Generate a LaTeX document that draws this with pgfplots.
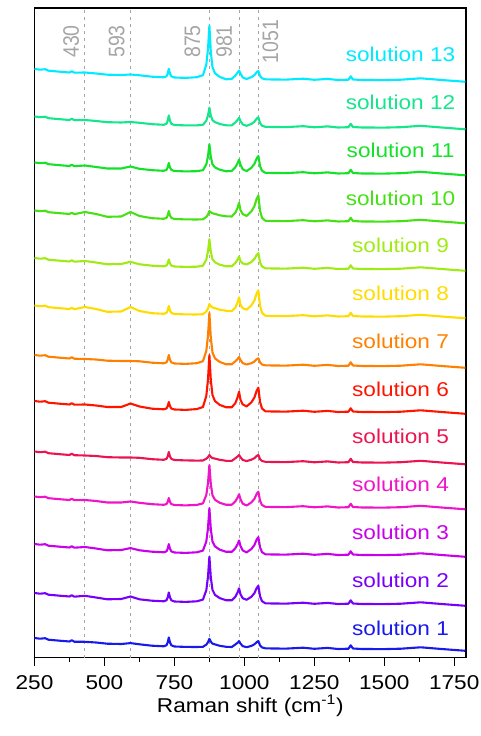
\documentclass[border=0pt]{standalone}
\usepackage{fontspec}
\setmainfont{Liberation Sans}[FakeStretch=1.13]
\newfontfamily\plainsans{Liberation Sans}
\usepackage{graphicx}
\usepackage{pgfplots}
\pgfplotsset{compat=1.18}

\definecolor{c13}{RGB}{0,235,255}
\definecolor{c12}{RGB}{20,230,140}
\definecolor{c11}{RGB}{20,225,40}
\definecolor{c10}{RGB}{70,225,20}
\definecolor{c9}{RGB}{160,235,20}
\definecolor{c8}{RGB}{255,220,0}
\definecolor{c7}{RGB}{255,128,0}
\definecolor{c6}{RGB}{255,20,0}
\definecolor{c5}{RGB}{235,20,80}
\definecolor{c4}{RGB}{240,20,200}
\definecolor{c3}{RGB}{200,0,235}
\definecolor{c2}{RGB}{120,0,250}
\definecolor{c1}{RGB}{25,25,235}
\definecolor{lgray}{RGB}{165,165,165}

\begin{document}
\begin{tikzpicture}
\begin{axis}[
    scale only axis,
    width=431.5pt, height=649.5pt,
    xmin=250, xmax=1792, ymin=0, ymax=649.5,
    xtick={250,500,...,1750},
    minor x tick num=1,
    ytick=\empty,
    xtick pos=left,
    tick align=outside,
    major tick length=8pt, minor tick length=4pt,
    tick style={black, line width=1.4pt},
    axis line style={line width=1.6pt},
    /pgf/number format/assume math mode=true,
    /pgf/number format/1000 sep={},
    ticklabel style={font=\fontsize{20}{24}\selectfont},
    xticklabel style={anchor=base, yshift=-23.5pt, inner sep=0pt},
    xlabel={Raman shift (cm\textsuperscript{-1})},
    xlabel style={at={(axis description cs:0.5,0)}, anchor=base, yshift=-55pt, inner sep=0pt, font=\fontsize{20}{24}\selectfont},
    every axis plot/.append style={line width=2.1pt, line join=round},
]
% reference lines
\addplot[lgray, line width=1pt, dash pattern=on 3pt off 4pt] coordinates {(430,0)(430,649.5)};
\addplot[lgray, line width=1pt, dash pattern=on 3pt off 4pt] coordinates {(593,0)(593,649.5)};
\addplot[lgray, line width=1pt, dash pattern=on 3pt off 4pt] coordinates {(875,0)(875,649.5)};
\addplot[lgray, line width=1pt, dash pattern=on 3pt off 4pt] coordinates {(981,0)(981,649.5)};
\addplot[lgray, line width=1pt, dash pattern=on 3pt off 4pt] coordinates {(1051,0)(1051,649.5)};

% solution 13
\addplot[c13] coordinates {(250,588.5)(270,587.8)(288,588.3)(300,586.8)(340,585.8)(375,585)(383,586.3)(392,584.8)(430,585)(470,584)(510,582.8)(560,582.5)(593,583)(625,582.2)(670,580.8)(712,580.2)(722,581.2)(726,583.9)(730,588.7)(734,583.9)(739,581.1)(750,580)(790,579.6)(830,580.3)(852,582.3)(864,593)(870,608.6)(875,632)(880,606)(886,590.4)(895,584.2)(912,580.6)(935,578.2)(955,578.6)(968,582.1)(976,584.9)(981,587)(986,583.9)(994,580.1)(1008,578.5)(1025,580.3)(1036,582.4)(1044,585.3)(1050,586.5)(1056,581.5)(1063,579.2)(1075,578.2)(1100,578)(1150,577.9)(1210,578.8)(1250,577.7)(1297,578.6)(1335,577.5)(1372,577.8)(1380,581.2)(1388,578)(1420,577.5)(1500,577.4)(1560,577.8)(1630,579.2)(1700,577.6)(1790,575.7)};
% solution 12
\addplot[c12] coordinates {(250,541)(270,540.3)(288,540.8)(300,539.3)(340,538.3)(375,537.5)(383,538.8)(392,537.3)(430,537.5)(470,536.5)(510,535.3)(560,535)(593,535.5)(625,534.7)(670,533.3)(712,532.7)(722,533.8)(726,536.8)(730,542)(734,536.8)(739,533.7)(750,532.5)(790,532.1)(830,532.1)(852,532.7)(864,536.8)(870,542)(875,549.8)(880,542.1)(886,537.3)(895,535.4)(912,533.5)(935,532.2)(955,532.1)(968,535.1)(976,537.6)(981,539.8)(986,536.5)(994,533.1)(1008,531.7)(1025,533.5)(1036,535.8)(1044,538.9)(1050,540.2)(1056,534.5)(1063,531.8)(1075,530.7)(1100,530.5)(1150,530.4)(1210,531.3)(1250,530.2)(1297,531.1)(1335,530)(1372,530.3)(1380,533.7)(1388,530.5)(1420,530)(1500,529.9)(1560,530.3)(1630,531.7)(1700,530.1)(1790,528.2)};
% solution 11
\addplot[c11] coordinates {(250,495)(270,494.3)(288,494.8)(300,493.3)(340,492.3)(375,491.5)(383,492.8)(392,491.3)(430,492)(470,490.5)(510,489)(560,489)(593,491)(625,488.7)(670,487.3)(712,486.7)(722,487.7)(726,490.1)(730,494.5)(734,490.1)(739,487.6)(750,486.5)(790,486.1)(830,486.3)(852,487.3)(864,493.2)(870,501.2)(875,513.3)(880,500.8)(886,493.2)(895,490.1)(912,487.8)(935,486.2)(955,486.5)(968,490.4)(976,494.5)(981,497.9)(986,492.8)(994,488.3)(1008,486.4)(1025,489.7)(1036,493.7)(1044,499.1)(1050,501.5)(1056,491.4)(1063,486.7)(1075,484.7)(1100,484.5)(1150,484.4)(1210,485.3)(1250,484.2)(1297,485.1)(1335,484)(1372,484.3)(1380,487.7)(1388,484.5)(1420,484)(1500,483.9)(1560,484.3)(1630,485.7)(1700,484.1)(1790,482.2)};
% solution 10
\addplot[c10] coordinates {(250,447)(270,446.3)(288,446.8)(300,445.3)(340,444.3)(375,443.5)(383,444.8)(392,443.3)(430,445.5)(470,443.5)(510,440.7)(560,441)(593,445.5)(625,441.5)(670,439.3)(712,438.7)(722,439.7)(726,442.1)(730,446.5)(734,442.1)(739,439.6)(750,438.5)(790,438.1)(830,438)(852,438.2)(864,440.5)(870,442.9)(875,446.5)(880,445.2)(886,444.2)(895,443.6)(912,442.2)(935,441.2)(955,441)(968,444.8)(976,449.9)(981,454.8)(986,447.5)(994,443.4)(1008,441.6)(1025,446.1)(1036,451.4)(1044,458.8)(1050,462)(1056,446.8)(1063,439.7)(1075,436.7)(1100,436.5)(1150,436.4)(1210,437.3)(1250,436.2)(1297,437.1)(1335,436)(1372,436.3)(1380,439.7)(1388,436.5)(1420,436)(1500,435.9)(1560,436.3)(1630,437.7)(1700,436.1)(1790,434.2)};
% solution 9
\addplot[c9] coordinates {(250,399.5)(270,398.8)(288,399.3)(300,397.8)(340,396.8)(375,396)(383,397.3)(392,395.8)(430,396.5)(470,395)(510,393.2)(560,393.5)(593,395.7)(625,393.2)(670,391.8)(712,391.2)(722,392)(726,394.2)(730,398)(734,394.2)(739,391.9)(750,391)(790,390.6)(830,390.8)(852,391.8)(864,397.9)(870,406.1)(875,418.4)(880,405.9)(886,398.3)(895,395.2)(912,392.8)(935,391.2)(955,391.2)(968,394.6)(976,398)(981,401)(986,396.5)(994,394.1)(1008,393)(1025,395.5)(1036,398.5)(1044,402.6)(1050,404.4)(1056,395.3)(1063,391)(1075,389.2)(1100,389)(1150,388.9)(1210,389.8)(1250,388.7)(1297,389.6)(1335,388.5)(1372,388.8)(1380,392.2)(1388,389)(1420,388.5)(1500,388.4)(1560,388.8)(1630,390.2)(1700,388.6)(1790,386.7)};
% solution 8
\addplot[c8] coordinates {(250,352)(270,351.3)(288,351.8)(300,350.3)(340,349.3)(375,348.5)(383,349.8)(392,348.3)(430,350.5)(470,348.5)(510,345.7)(560,346)(593,350.5)(625,346.5)(670,344.3)(712,343.7)(722,344.7)(726,347.1)(730,351.5)(734,347.1)(739,344.6)(750,343.5)(790,343.1)(830,343)(852,343.3)(864,346)(870,349)(875,353.5)(880,351.5)(886,350)(895,349.3)(912,347.8)(935,346.7)(955,346.3)(968,350)(976,355.2)(981,360.2)(986,352.7)(994,349.3)(1008,347.8)(1025,352.1)(1036,357.1)(1044,364.2)(1050,367.2)(1056,351.9)(1063,344.8)(1075,341.7)(1100,341.5)(1150,341.4)(1210,342.3)(1250,341.2)(1297,342.1)(1335,341)(1372,341.3)(1380,344.7)(1388,341.5)(1420,341)(1500,340.9)(1560,341.3)(1630,342.7)(1700,341.1)(1790,339.2)};
% solution 7
\addplot[c7] coordinates {(250,302.5)(270,301.8)(288,302.3)(300,300.8)(340,299.8)(375,299)(383,300.3)(392,298.8)(430,298.5)(470,298)(510,296.8)(560,296.5)(593,296.5)(625,296.2)(670,294.8)(712,294.2)(722,295.2)(726,297.8)(730,302.5)(734,297.8)(739,295.1)(750,294)(790,293.6)(830,294.3)(852,296.3)(864,306.7)(870,321.9)(875,344.8)(880,320)(886,305.1)(895,299.1)(912,295.5)(935,293.2)(955,293.2)(968,296.3)(976,298.6)(981,300.5)(986,297.6)(994,294.4)(1008,293)(1025,294.3)(1036,296)(1044,298.2)(1050,299.2)(1056,295)(1063,293)(1075,292.2)(1100,292)(1150,291.9)(1210,292.8)(1250,291.7)(1297,292.6)(1335,291.5)(1372,291.8)(1380,295.2)(1388,292)(1420,291.5)(1500,291.4)(1560,291.8)(1630,293.2)(1700,291.6)(1790,289.7)};
% solution 6
\addplot[c6] coordinates {(250,256.5)(270,255.8)(288,256.3)(300,254.8)(340,253.8)(375,253)(383,254.3)(392,252.8)(430,253)(470,252)(510,250.5)(560,250.5)(593,254)(625,251)(670,248.8)(712,248.2)(722,249.1)(726,251.4)(730,255.5)(734,251.4)(739,249)(750,248)(790,247.6)(830,248.4)(852,250.5)(864,261.6)(870,278)(875,302.5)(880,277.7)(886,262.5)(895,256.4)(912,252.6)(935,250.2)(955,250.2)(968,254.5)(976,260.5)(981,265.8)(986,257.8)(994,253.1)(1008,251.1)(1025,255.1)(1036,260)(1044,266.9)(1050,269.8)(1056,255.6)(1063,249)(1075,246.2)(1100,246)(1150,245.9)(1210,246.8)(1250,245.7)(1297,246.6)(1335,245.5)(1372,245.8)(1380,249.2)(1388,246)(1420,245.5)(1500,245.4)(1560,245.8)(1630,247.2)(1700,245.6)(1790,243.7)};
% solution 5
\addplot[c5] coordinates {(250,206)(270,205.3)(288,205.8)(300,204.3)(340,203.3)(375,202.5)(383,203.8)(392,202.3)(430,202)(470,201.5)(510,200.3)(560,200)(593,200)(625,199.7)(670,198.3)(712,197.7)(722,198.7)(726,201.1)(730,205.5)(734,201.1)(739,198.6)(750,197.5)(790,197.1)(830,196.9)(852,197)(864,198.8)(870,200.3)(875,202.5)(880,200.6)(886,199.4)(895,198.9)(912,197.7)(935,196.7)(955,196.6)(968,199.3)(976,201)(981,202.5)(986,200.3)(994,197.6)(1008,196.4)(1025,197.8)(1036,199.4)(1044,201.6)(1050,202.5)(1056,198.4)(1063,196.5)(1075,195.7)(1100,195.5)(1150,195.4)(1210,196.3)(1250,195.2)(1297,196.1)(1335,195)(1372,195.3)(1380,198.7)(1388,195.5)(1420,195)(1500,194.9)(1560,195.3)(1630,196.7)(1700,195.1)(1790,193.2)};
% solution 4
\addplot[c4] coordinates {(250,161)(270,160.3)(288,160.8)(300,159.3)(340,158.3)(375,157.5)(383,158.8)(392,157.3)(430,157.5)(470,156.5)(510,155)(560,155)(593,156)(625,154.7)(670,153.3)(712,152.7)(722,153.5)(726,155.7)(730,159.5)(734,155.7)(739,153.4)(750,152.5)(790,152.1)(830,152.6)(852,154.1)(864,162.5)(870,174.5)(875,192.5)(880,173.7)(886,162.3)(895,157.7)(912,154.7)(935,152.7)(955,152.8)(968,156.3)(976,160)(981,163.2)(986,158.4)(994,153.9)(1008,152)(1025,155.1)(1036,158.7)(1044,163.7)(1050,165.8)(1056,156.7)(1063,152.5)(1075,150.7)(1100,150.5)(1150,150.4)(1210,151.3)(1250,150.2)(1297,151.1)(1335,150)(1372,150.3)(1380,153.7)(1388,150.5)(1420,150)(1500,149.9)(1560,150.3)(1630,151.7)(1700,150.1)(1790,148.2)};
% solution 3
\addplot[c3] coordinates {(250,113.5)(270,112.8)(288,113.3)(300,111.8)(340,110.8)(375,110)(383,111.3)(392,109.8)(430,110.5)(470,109)(510,107.2)(560,107.5)(593,109.4)(625,107.2)(670,105.8)(712,105.2)(722,106.2)(726,108.8)(730,113.4)(734,108.8)(739,106.1)(750,105)(790,104.6)(830,105.2)(852,106.9)(864,116.1)(870,129.4)(875,149.4)(880,128.7)(886,116.1)(895,111.1)(912,107.8)(935,105.7)(955,105.7)(968,109.4)(976,113.4)(981,117)(986,111.6)(994,107.1)(1008,105.1)(1025,108.5)(1036,112.5)(1044,118)(1050,120.4)(1056,110.1)(1063,105.3)(1075,103.2)(1100,103)(1150,102.9)(1210,103.8)(1250,102.7)(1297,103.6)(1335,102.5)(1372,102.8)(1380,106.2)(1388,103)(1420,102.5)(1500,102.4)(1560,102.8)(1630,104.2)(1700,102.6)(1790,100.7)};
% solution 2
\addplot[c2] coordinates {(250,64.5)(270,63.8)(288,64.3)(300,62.8)(340,61.8)(375,61)(383,62.3)(392,60.8)(430,61.7)(470,60)(510,58.2)(560,58.5)(593,61)(625,58.2)(670,56.8)(712,56.2)(722,57.3)(726,60.1)(730,65)(734,60.1)(739,57.2)(750,56)(790,55.6)(830,56.2)(852,57.9)(864,67.3)(870,80.8)(875,101)(880,80.3)(886,67.7)(895,62.6)(912,59.4)(935,57.2)(955,57.2)(968,60.9)(976,65.2)(981,69.2)(986,63.3)(994,59.3)(1008,57.7)(1025,60.7)(1036,64.4)(1044,69.5)(1050,71.7)(1056,61.2)(1063,56.3)(1075,54.2)(1100,54)(1150,53.9)(1210,54.8)(1250,53.7)(1297,54.6)(1335,53.5)(1372,53.8)(1380,57.2)(1388,54)(1420,53.5)(1500,53.4)(1560,53.8)(1630,55.2)(1700,53.6)(1790,51.7)};
% solution 1
\addplot[c1] coordinates {(250,19.5)(270,18.8)(288,19.3)(300,17.8)(340,16.8)(375,16)(383,17.3)(392,15.8)(430,15.7)(470,15)(510,13.8)(560,13.5)(593,14.4)(625,13.2)(670,11.8)(712,11.2)(722,12.3)(726,15.1)(730,20)(734,15.1)(739,12.2)(750,11)(790,10.6)(830,10.5)(852,10.7)(864,12.9)(870,15.2)(875,18.7)(880,15.8)(886,13.9)(895,13.1)(912,11.7)(935,10.7)(955,10.5)(968,13.1)(976,14.8)(981,16.4)(986,14)(994,11.4)(1008,10.3)(1025,11.6)(1036,13.2)(1044,15.4)(1050,16.4)(1056,12.1)(1063,10.1)(1075,9.2)(1100,9)(1150,8.9)(1210,9.8)(1250,8.7)(1297,9.6)(1335,8.5)(1372,8.8)(1380,12.2)(1388,9)(1420,8.5)(1500,8.4)(1560,8.8)(1630,10.2)(1700,8.6)(1790,6.7)};

% peak labels
\begin{scope}[every node/.style={rotate=90, anchor=base, text=lgray, inner sep=0pt, font=\plainsans\fontsize{19.5}{23}\selectfont}]
\node at (axis cs:409,616) {\scalebox{1}[1.15]{430}};
\node at (axis cs:571,616) {\scalebox{1}[1.15]{593}};
\node at (axis cs:842,616) {\scalebox{1}[1.15]{875}};
\node at (axis cs:955,616) {\scalebox{1}[1.15]{981}};
\node at (axis cs:1121,616) {\scalebox{1}[1.15]{1051}};
\end{scope}

% series labels
\begin{scope}[every node/.style={anchor=base, inner sep=0pt, font=\fontsize{20}{24}\selectfont}]
\node[text=c13] at (axis cs:1558,595.5) {solution 13};
\node[text=c12] at (axis cs:1558,547.75) {solution 12};
\node[text=c11] at (axis cs:1558,500) {solution 11};
\node[text=c10] at (axis cs:1558,452.25) {solution 10};
\node[text=c9] at (axis cs:1558,404.5) {solution 9};
\node[text=c8] at (axis cs:1558,356.75) {solution 8};
\node[text=c7] at (axis cs:1558,309) {solution 7};
\node[text=c6] at (axis cs:1558,261.25) {solution 6};
\node[text=c5] at (axis cs:1558,213.5) {solution 5};
\node[text=c4] at (axis cs:1558,165.75) {solution 4};
\node[text=c3] at (axis cs:1558,118) {solution 3};
\node[text=c2] at (axis cs:1558,70.25) {solution 2};
\node[text=c1] at (axis cs:1558,22.5) {solution 1};
\end{scope}
\end{axis}
\path ([shift={(-34.5pt,-78.5pt)}]current axis.south west) rectangle ++(481pt,736pt);
\end{tikzpicture}
\end{document}
